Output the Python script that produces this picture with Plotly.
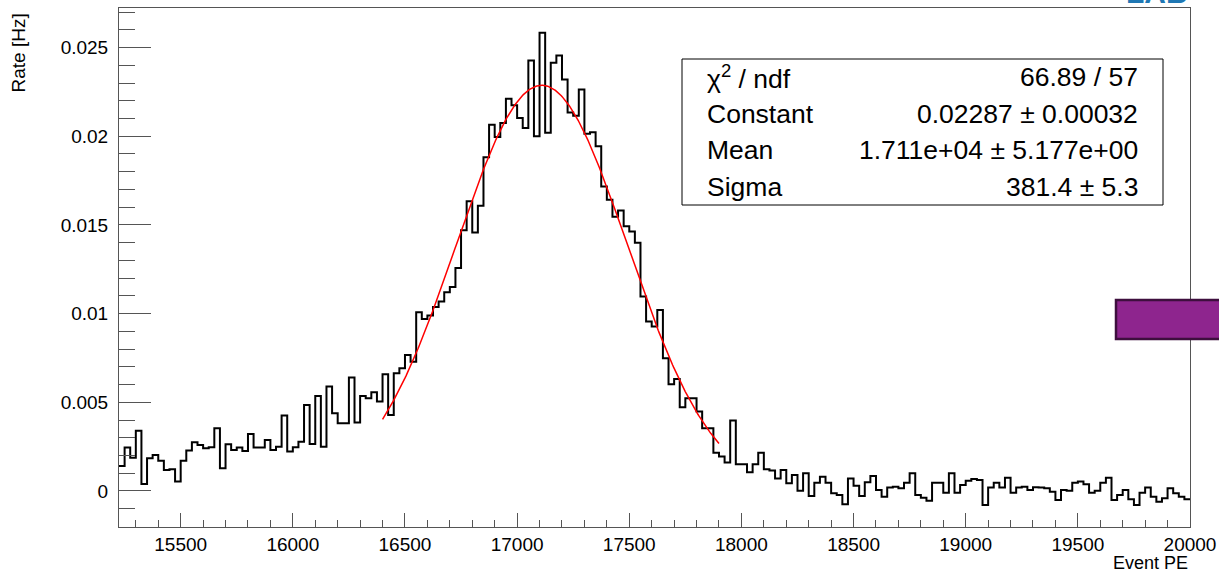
import numpy as np
import plotly.graph_objects as go

# Histogram binning (Event PE)
first_edge = 15225
bin_width = 25

# Rate per bin [Hz]
rates = [
    0.00141, 0.00245, 0.00188, 0.00340, 0.00040, 0.00184, 0.00203, 0.00171, 0.00119, 0.00122,
    0.00053, 0.00171, 0.00228, 0.00275, 0.00260, 0.00241, 0.00246, 0.00354, 0.00128, 0.00263,
    0.00231, 0.00245, 0.00226, 0.00322, 0.00245, 0.00245, 0.00288, 0.00231, 0.00250, 0.00425,
    0.00222, 0.00246, 0.00278, 0.00485, 0.00265, 0.00536, 0.00250, 0.00589, 0.00438, 0.00382,
    0.00382, 0.00640, 0.00386, 0.00536, 0.00523, 0.00557, 0.00504, 0.00658, 0.00429, 0.00664,
    0.00692, 0.00766, 0.00728, 0.01008, 0.00969, 0.00989, 0.01037, 0.01068, 0.01121, 0.01150,
    0.01257, 0.01470, 0.01633, 0.01458, 0.01608, 0.01881, 0.02065, 0.01996, 0.02075, 0.02212,
    0.02175, 0.02103, 0.02047, 0.02427, 0.02000, 0.02583, 0.02019, 0.02414, 0.02455, 0.02320,
    0.02134, 0.02115, 0.02263, 0.02014, 0.02023, 0.01943, 0.01717, 0.01642, 0.01546, 0.01582,
    0.01492, 0.01463, 0.01400, 0.01097, 0.00956, 0.00927, 0.01021, 0.00749, 0.00602, 0.00632,
    0.00472, 0.00523, 0.00523, 0.00448, 0.00354, 0.00354, 0.00216, 0.00194, 0.00160, 0.00397,
    0.00151, 0.00151, 0.00105, 0.00151, 0.00216, 0.00122, 0.00115, 0.00071, 0.00119, 0.00043,
    0.00090, 0.00002, 0.00100, -0.00028, 0.00047, 0.00081, 0.00047, -0.00013, -0.00023, -0.00075,
    0.00071, 0.00030, -0.00028, 0.00049, 0.00085, 0.00006, -0.00032, 0.00019, 0.00024, 0.00015,
    0.00047, 0.00100, -0.00023, -0.00038, -0.00055, 0.00047, 0.00047, -0.00010, 0.00100, -0.00010,
    0.00034, 0.00058, 0.00068, 0.00062, -0.00079, 0.00019, 0.00047, 0.00019, 0.00075, -0.00010,
    0.00019, 0.00024, 0.00006, 0.00021, 0.00019, 0.00015, -0.00004, -0.00051, 0.00006, 0.00002,
    0.00047, 0.00053, 0.00038, -0.00010, 0.00002, 0.00047, 0.00075, -0.00051, -0.00023, 0.00006,
    -0.00047, -0.00079, -0.00010, 0.00019, -0.00032, -0.00060, -0.00041, 0.00015, -0.00013, -0.00032,
    -0.00047,
]

# Gaussian fit result and range
fit_constant = 0.02287
fit_mean = 17110.0
fit_sigma = 381.4
fit_range = [16400, 17900]

# Fit statistics box
stat_names = ["χ<sup>2</sup> / ndf", "Constant", "Mean", "Sigma"]
stat_values = ["66.89 / 57", "0.02287 ± 0.00032", "1.711e+04 ± 5.177e+00", "381.4 ± 5.3"]

x_range = [15225, 20000]
y_range = [-0.00203, 0.02723]

FONT = "Liberation Sans, Arial, Helvetica, sans-serif"

edges = first_edge + bin_width * np.arange(len(rates) + 1)
step_y = list(rates) + [rates[-1]]

fit_x = np.linspace(fit_range[0], fit_range[1], 400)
fit_y = fit_constant * np.exp(-0.5 * ((fit_x - fit_mean) / fit_sigma) ** 2)

fig = go.Figure()
fig.add_trace(go.Scatter(
    x=edges, y=step_y, mode="lines", line=dict(color="black", width=2, shape="hv"),
    hoverinfo="skip", showlegend=False,
))
fig.add_trace(go.Scatter(
    x=fit_x, y=fit_y, mode="lines", line=dict(color="#ff0000", width=1.5),
    hoverinfo="skip", showlegend=False,
))

W, H = 1219, 574
L, R, T, B = 119, 1190, 8, 527


def px_x(p):
    return (p - L) / (R - L)


def px_y(p):
    return (B - p) / (B - T)


axis_common = dict(
    showgrid=False, zeroline=False, showline=True, mirror=True,
    linecolor="#555555", linewidth=1, ticks="inside", tickcolor="#555555",
    tickfont=dict(family=FONT, size=19, color="black"),
)

fig.update_xaxes(
    range=x_range, dtick=500, tick0=0, ticklen=14, tickwidth=1, tickformat="d",
    minor=dict(dtick=100, tick0=0, ticklen=7, ticks="inside", tickcolor="#555555", showgrid=False),
    **axis_common,
)
fig.update_yaxes(
    range=y_range, dtick=0.005, tick0=0, ticklen=32, tickwidth=1, tickformat="~g",
    ticklabelstandoff=6,
    minor=dict(dtick=0.001, tick0=0, ticklen=16, ticks="inside", tickcolor="#555555", showgrid=False),
    **axis_common,
)

shapes = [
    # fit statistics box
    dict(type="rect", xref="paper", yref="paper",
         x0=px_x(682), x1=px_x(1163), y0=px_y(205), y1=px_y(59),
         line=dict(color="black", width=1), fillcolor="white", layer="above"),
    # purple marker box at the right edge
    dict(type="rect", xref="paper", yref="paper",
         x0=px_x(1116), x1=px_x(1230), y0=px_y(339), y1=px_y(300),
         line=dict(color="#3e0f3e", width=2.5), fillcolor="#8e258e", layer="above"),
]

annotations = []
row_centers = [77.25, 113.75, 150.25, 186.75]
for name, val, yc in zip(stat_names, stat_values, row_centers):
    annotations.append(dict(
        xref="paper", yref="paper", x=px_x(705), y=px_y(yc), xanchor="left", yanchor="middle",
        text=name, showarrow=False, font=dict(family=FONT, size=26.5, color="black"),
    ))
    annotations.append(dict(
        xref="paper", yref="paper", x=px_x(1140), y=px_y(yc), xanchor="right", yanchor="middle",
        text=val, showarrow=False, font=dict(family=FONT, size=26.5, color="black"),
    ))

annotations.append(dict(
    xref="paper", yref="paper", x=1.0, y=px_y(563), xanchor="right", yanchor="middle",
    text="Event PE", showarrow=False, font=dict(family=FONT, size=18, color="black"),
))
annotations.append(dict(
    xref="paper", yref="paper", x=px_x(18), y=px_y(12), xanchor="center", yanchor="top",
    text="Rate [Hz]", textangle=-90, showarrow=False, font=dict(family=FONT, size=19, color="black"),
))
# logo text at the top-right corner, mostly above the page edge
annotations.append(dict(
    xref="paper", yref="paper", x=1.0, y=px_y(11), xanchor="right", yanchor="bottom",
    text="<b>LAB</b>", showarrow=False, font=dict(family=FONT, size=30, color="#1f78b4"),
))

fig.update_layout(
    width=W, height=H,
    margin=dict(l=L, r=W - R, t=T, b=H - B, autoexpand=False),
    plot_bgcolor="white", paper_bgcolor="white",
    shapes=shapes, annotations=annotations,
    showlegend=False,
)

fig.write_html("out.html", config={"displayModeBar": False})
